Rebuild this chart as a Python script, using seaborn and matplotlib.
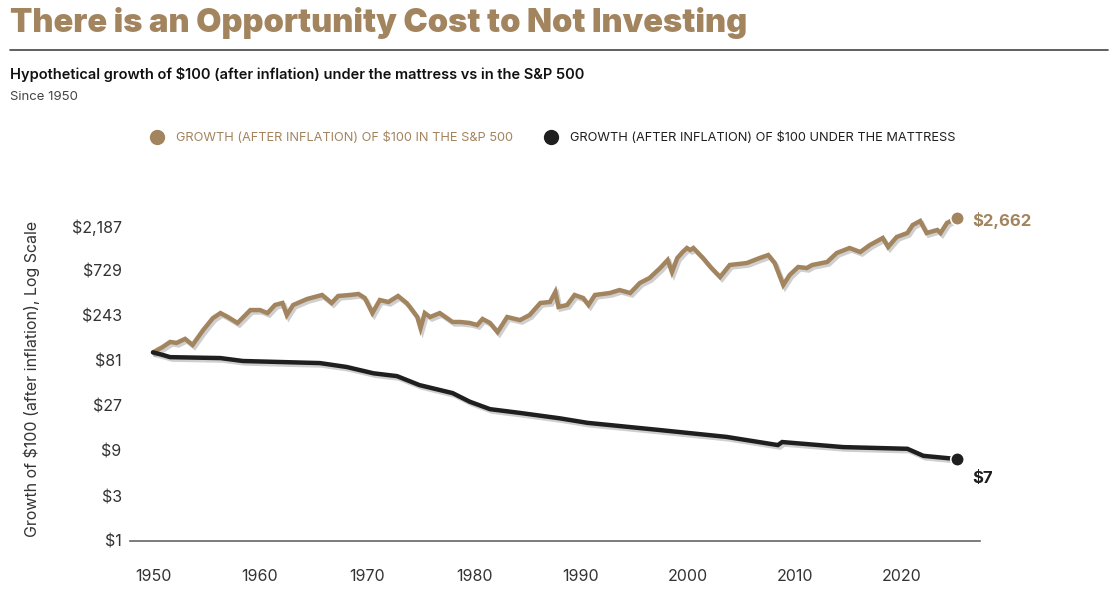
import numpy as np
import pandas as pd
import matplotlib
matplotlib.use("Agg")
import matplotlib.pyplot as plt
import matplotlib.patheffects as pe
from matplotlib.lines import Line2D
import seaborn as sns

sp_years = [1950.0, 1950.9, 1951.6, 1952.2, 1953.0, 1953.7, 1954.7, 1955.6, 1956.3,
            1957.0, 1957.9, 1959.1, 1960.0, 1960.7, 1961.4, 1962.1, 1962.5, 1963.1,
            1964.4, 1965.8, 1966.7, 1967.3, 1968.4, 1969.2, 1969.8, 1970.5, 1971.2,
            1972.0, 1972.9, 1973.7, 1974.0, 1974.7, 1975.0, 1975.4, 1975.9, 1976.8,
            1978.0, 1978.7, 1979.6, 1980.3, 1980.8, 1981.5, 1982.2, 1983.1, 1984.3,
            1985.2, 1986.2, 1987.1, 1987.6, 1987.9, 1988.7, 1989.4, 1990.2, 1990.7,
            1991.3, 1992.7, 1993.6, 1994.6, 1995.5, 1996.4, 1997.4, 1998.1, 1998.5,
            1999.0, 1999.5, 1999.9, 2000.2, 2000.5, 2001.4, 2002.1, 2003.0, 2003.9,
            2005.5, 2006.7, 2007.5, 2008.1, 2008.9, 2009.5, 2010.3, 2011.1, 2011.6,
            2013.0, 2013.9, 2015.1, 2016.1, 2017.0, 2018.2, 2018.7, 2019.5, 2020.5,
            2021.0, 2021.7, 2022.3, 2023.3, 2023.6, 2024.2, 2025.1]
sp_values = [100, 114, 129, 126, 139, 120, 173, 231, 261,
             237, 205, 281, 281, 261, 318, 334, 249, 318,
             368, 406, 334, 396, 406, 416, 377, 261, 359,
             342, 396, 334, 303, 237, 181, 261, 237, 261,
             210, 210, 205, 195, 226, 205, 164, 237, 220,
             249, 334, 342, 437, 303, 318, 406, 377, 318,
             406, 426, 458, 426, 544, 614, 784, 954, 711,
             1001, 1159, 1278, 1217, 1278, 1001, 804, 630, 844,
             886, 1001, 1077, 886, 518, 661, 804, 784, 844,
             908, 1131, 1278, 1159, 1375, 1632, 1310, 1672, 1843,
             2241, 2471, 1843, 1984, 1843, 2353, 2662]

mat_years = [1950.0, 1950.9, 1951.6, 1956.3, 1958.4, 1965.6, 1968.1, 1970.6, 1972.8,
             1974.9, 1978.0, 1979.6, 1981.5, 1984.3, 1988.0, 1990.6, 1997.4, 2003.6,
             2008.4, 2008.8, 2014.5, 2020.5, 2022.0, 2025.1]
mat_values = [100, 94, 89, 87, 81, 77, 70, 60, 56,
              45, 37, 30, 25, 22.8, 20, 17.9, 15, 12.7,
              10.4, 11.2, 9.9, 9.5, 8.0, 7.4]

y_ticks = [1, 3, 9, 27, 81, 243, 729, 2187]
y_tick_labels = ['$1', '$3', '$9', '$27', '$81', '$243', '$729', '$2,187']
x_ticks = [1950, 1960, 1970, 1980, 1990, 2000, 2010, 2020]

sp_name = 'GROWTH (AFTER INFLATION) OF $100 IN THE S&P 500'
mat_name = 'GROWTH (AFTER INFLATION) OF $100 UNDER THE MATTRESS'

TAN = '#a2845f'
INK = '#1f1f1f'

sns.set_theme(style='white')
plt.rcParams['font.family'] = ['Inter', 'DejaVu Sans']

df = pd.concat([
    pd.DataFrame({'year': sp_years, 'value': sp_values, 'series': sp_name}),
    pd.DataFrame({'year': mat_years, 'value': mat_values, 'series': mat_name}),
])

fig = plt.figure(figsize=(11.14, 6.04), dpi=100)
ax = fig.add_axes([130 / 1114, 63 / 604, 850 / 1114, 341 / 604])

sns.lineplot(data=df, x='year', y='value', hue='series', estimator=None,
             palette={sp_name: TAN, mat_name: INK}, lw=3.2, ax=ax, legend=False)

shadow = [pe.SimpleLineShadow(offset=(1.5, -1.8), shadow_color='#777777', alpha=0.35),
          pe.Normal()]
for line in ax.lines:
    line.set_path_effects(shadow)
    line.set_solid_joinstyle('miter')

# end points
ax.scatter([sp_years[-1]], [sp_values[-1]], s=95, color=TAN, zorder=5,
           edgecolor='white', linewidth=1.2)
ax.scatter([mat_years[-1]], [mat_values[-1]], s=95, color=INK, zorder=5,
           edgecolor='white', linewidth=1.2)
ax.annotate('$2,662', xy=(sp_years[-1], sp_values[-1]), xytext=(11, -2),
            textcoords='offset points', va='center', ha='left',
            fontsize=12, fontweight='bold', color=TAN)
ax.annotate('$7', xy=(mat_years[-1], mat_values[-1]), xytext=(11, -14),
            textcoords='offset points', va='center', ha='left',
            fontsize=12, fontweight='bold', color=INK)

# axes
ax.set_yscale('log')
ax.set_ylim(1, 3 ** (341 / 45))
ax.set_xlim(1950 - 23 / 10.7, 1950 + 827 / 10.7)
ax.set_yticks(y_ticks)
ax.set_yticklabels(y_tick_labels)
ax.minorticks_off()
ax.set_xticks(x_ticks)
ax.set_xticklabels([str(x) for x in x_ticks])
ax.tick_params(axis='both', length=0, labelsize=11.5, colors='#333333')
ax.tick_params(axis='y', pad=6)
ax.tick_params(axis='x', pad=20)
for s in ['top', 'right', 'left']:
    ax.spines[s].set_visible(False)
ax.spines['bottom'].set_color('#666666')
ax.spines['bottom'].set_linewidth(1.2)
ax.set_xlabel('')
ax.set_ylabel('Growth of $100 (after inflation), Log Scale', fontsize=11.5, color='#333333')
ax.yaxis.set_label_coords(-90 / 850, 0.475)

# header
fig.text(10 / 1114, 1 - 23 / 604, 'There is an Opportunity Cost to Not Investing',
         fontsize=23.5, fontweight=900, color=TAN, va='center', ha='left')
fig.add_artist(Line2D([10 / 1114, 1108 / 1114], [1 - 50 / 604] * 2,
                      transform=fig.transFigure, color='#444444', lw=1.2))
fig.text(10 / 1114, 1 - 74 / 604,
         'Hypothetical growth of $100 (after inflation) under the mattress vs in the S&P 500',
         fontsize=10.5, fontweight='semibold', color='#111111', va='center', ha='left')
fig.text(10 / 1114, 1 - 97 / 604, 'Since 1950', fontsize=9.5, color='#444444',
         va='center', ha='left')

handles = [Line2D([], [], marker='o', ls='', markersize=10, color=TAN),
           Line2D([], [], marker='o', ls='', markersize=10, color=INK)]
leg = fig.legend(handles, [sp_name, mat_name], loc='center', ncol=2,
                 bbox_to_anchor=(550 / 1114, 1 - 138 / 604), frameon=False,
                 fontsize=9.2, handletextpad=0.5, columnspacing=2.0)
leg.get_texts()[0].set_color(TAN)
leg.get_texts()[1].set_color(INK)

fig.savefig('out.png', dpi=100)
